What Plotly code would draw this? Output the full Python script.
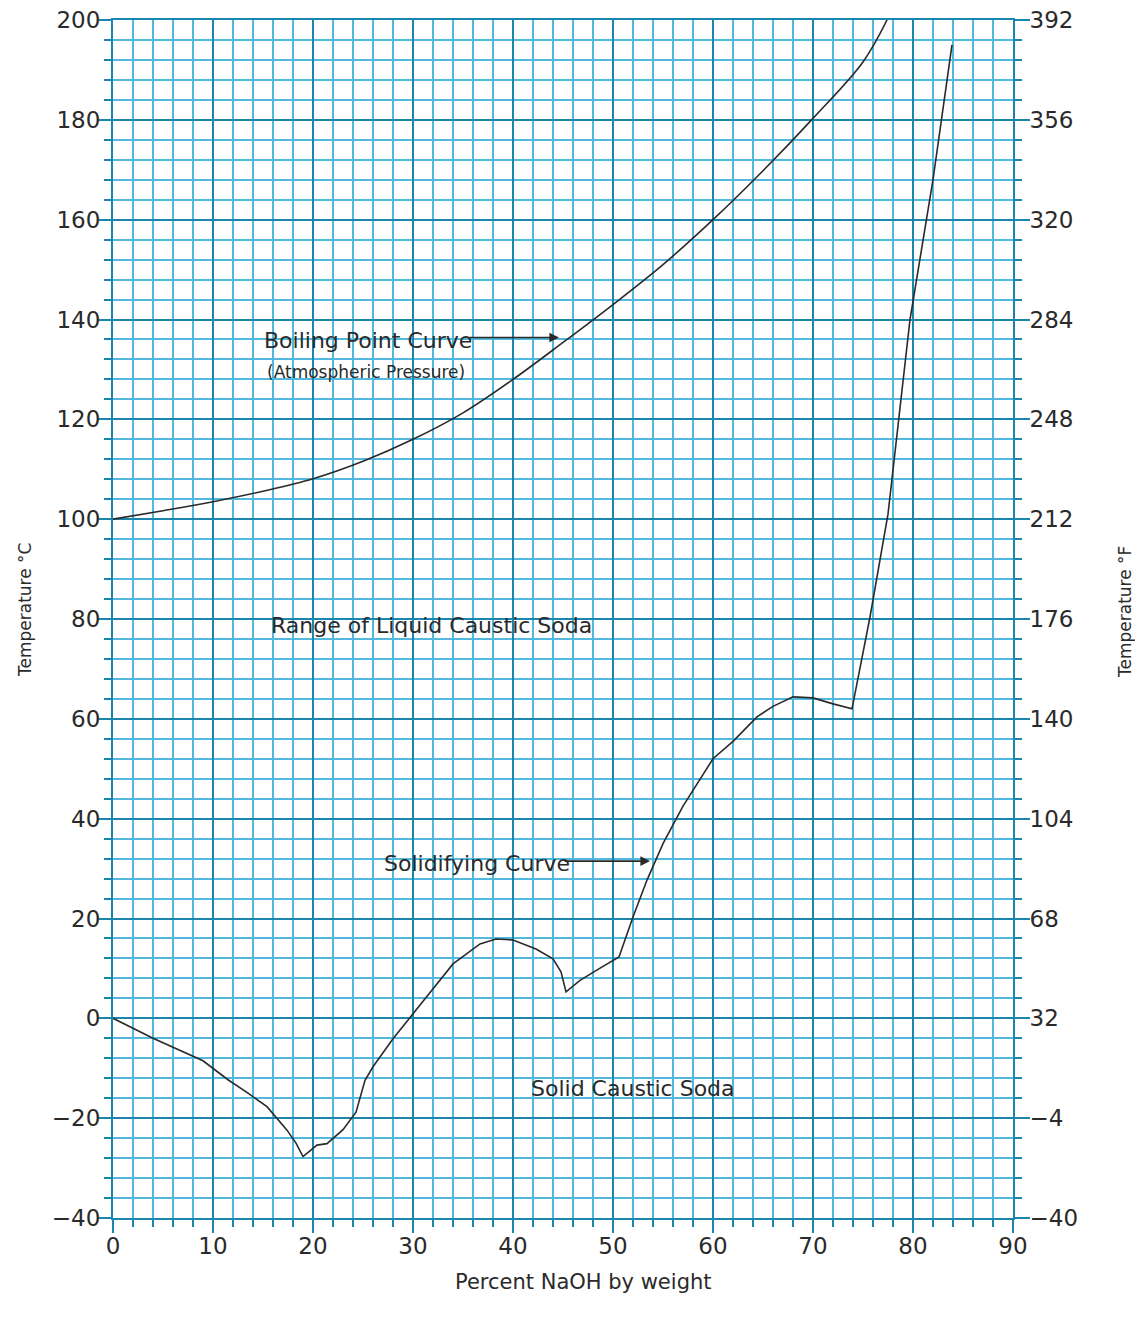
import plotly.graph_objects as go

# Boiling point curve (atmospheric pressure)
boil_x = [0, 5, 10, 15, 20, 25, 30, 35, 40, 45, 50, 55, 60, 65, 70, 75, 77.4]
boil_y = [100, 101.7, 103.5, 105.6, 108.1, 111.6, 116, 121.3, 128, 135.4, 143, 151, 160, 169.8, 180.3, 191.6, 200]

# Solidifying curve
sol_x = [0, 4, 9, 11.5, 13.5, 15.4, 17.4, 18.3, 19.0, 20.4, 21.4, 23, 24.3, 25.2, 26, 28, 30, 32, 34, 36.7, 38.3, 40, 42.3, 44, 44.8, 45.3, 46.7, 48.5, 50.6,
         52, 53.4, 55, 57, 60, 62, 64.4, 66, 68, 70, 72, 73.9, 75.7, 77.5, 79.7, 82, 83.9]
sol_y = [0, -4, -8.5, -12.3, -15, -17.7, -22.4, -25, -27.7, -25.4, -25.1, -22.3, -18.8, -12.4, -9.7, -4.1, 0.9, 6, 10.9, 14.9, 15.9, 15.7, 13.9, 11.9, 9.3, 5.3, 7.6, 9.8, 12.3,
         20.3, 27.7, 35, 42.5, 52, 55.5, 60.4, 62.5, 64.4, 64.2, 63, 62, 80.4, 101, 140, 168, 195]

x_ticks = [0, 10, 20, 30, 40, 50, 60, 70, 80, 90]
yc_ticks = [-40, -20, 0, 20, 40, 60, 80, 100, 120, 140, 160, 180, 200]
yf_ticks = [-40, -4, 32, 68, 104, 140, 176, 212, 248, 284, 320, 356, 392]

MAJ = "#1a86ad"
MIN = "#52b8dd"
INK = "#2a2a2a"
FONT = "DejaVu Sans, Verdana, sans-serif"

fig = go.Figure()
fig.add_trace(go.Scatter(x=boil_x, y=boil_y, mode="lines", line=dict(color=INK, width=1.6),
                         line_shape="spline", showlegend=False, hoverinfo="skip"))
fig.add_trace(go.Scatter(x=sol_x, y=sol_y, mode="lines", line=dict(color=INK, width=1.6),
                         showlegend=False, hoverinfo="skip"))
fig.add_trace(go.Scatter(x=[None], y=[None], yaxis="y2", showlegend=False, hoverinfo="skip"))

tickfont = dict(family=FONT, size=23, color=INK)

fig.update_layout(
    width=1143, height=1327,
    margin=dict(l=105, r=138, t=12, b=117),
    paper_bgcolor="white", plot_bgcolor="white",
    font=dict(family=FONT, color=INK),
    xaxis=dict(range=[0, 90], tickvals=x_ticks, ticks="outside", ticklen=13, tickwidth=2, tickcolor=MAJ,
               showgrid=True, gridcolor=MAJ, gridwidth=2.2, zeroline=False, automargin=False,
               showline=True, linecolor=MAJ, linewidth=2, mirror=True,
               tickfont=tickfont, ticklabelstandoff=-7, ticklabeloverflow="allow",
               minor=dict(dtick=2, tick0=0, ticks="outside", ticklen=7, tickwidth=1.5, tickcolor=MAJ,
                          showgrid=True, gridcolor=MIN, gridwidth=1.5)),
    yaxis=dict(range=[-40, 200], tickvals=yc_ticks, ticks="outside", ticklen=13, tickwidth=2, tickcolor=MAJ,
               showgrid=True, gridcolor=MAJ, gridwidth=2.2, zeroline=False, automargin=False,
               showline=True, linecolor=MAJ, linewidth=2,
               tickfont=tickfont, ticklabelstandoff=-7, ticklabeloverflow="allow",
               minor=dict(dtick=4, tick0=0, ticks="outside", ticklen=7, tickwidth=1.5, tickcolor=MAJ,
                          showgrid=True, gridcolor=MIN, gridwidth=1.5)),
    yaxis2=dict(range=[-40, 392], overlaying="y", side="right", tickvals=yf_ticks,
                ticks="outside", ticklen=15, tickwidth=2, tickcolor=MAJ, automargin=False,
                showgrid=False, zeroline=False, showline=True, linecolor=MAJ, linewidth=2,
                tickfont=tickfont, ticklabelstandoff=-5, ticklabeloverflow="allow",
                minor=dict(dtick=7.2, tick0=-40, ticks="outside", ticklen=7, tickwidth=1.5, tickcolor=MAJ,
                           showgrid=False)),
)

# axis titles
fig.add_annotation(x=(25 - 113) / 900, y=(1218 - 610) / 1198, xref="paper", yref="paper",
                   xanchor="center", yanchor="middle",
                   text="Temperature °C", textangle=-90, showarrow=False,
                   font=dict(family=FONT, size=17, color=INK))
fig.add_annotation(x=(1125 - 113) / 900, y=(1218 - 612) / 1198, xref="paper", yref="paper",
                   xanchor="center", yanchor="middle",
                   text="Temperature °F", textangle=-90, showarrow=False,
                   font=dict(family=FONT, size=17, color=INK))
fig.add_annotation(x=(583 - 113) / 900, y=(1218 - 1282) / 1198, xref="paper", yref="paper",
                   xanchor="center", yanchor="middle",
                   text="Percent NaOH by weight", showarrow=False,
                   font=dict(family=FONT, size=21, color=INK))


def label(text, x, y, size):
    fig.add_annotation(x=x, y=y, xref="x", yref="y", text=text, showarrow=False,
                       xanchor="left", yanchor="middle", font=dict(family=FONT, size=size, color=INK))


def arrow(x0, x1, y):
    fig.add_annotation(x=x1, y=y, ax=x0, ay=y, xref="x", yref="y", axref="x", ayref="y",
                       text="", showarrow=True, arrowhead=2, arrowsize=1.2, arrowwidth=1.6, arrowcolor=INK)


label("Boiling Point Curve", 14.9, 135.7, 22)
label("(Atmospheric Pressure)", 15.2, 129.5, 17)
arrow(35.5, 44.6, 136.4)
label("Range of Liquid Caustic Soda", 15.6, 78.6, 22)
label("Solidifying Curve", 26.9, 31.1, 22)
arrow(45.0, 53.7, 31.5)
label("Solid Caustic Soda", 41.6, -14, 22)

fig.write_html("out.html")
